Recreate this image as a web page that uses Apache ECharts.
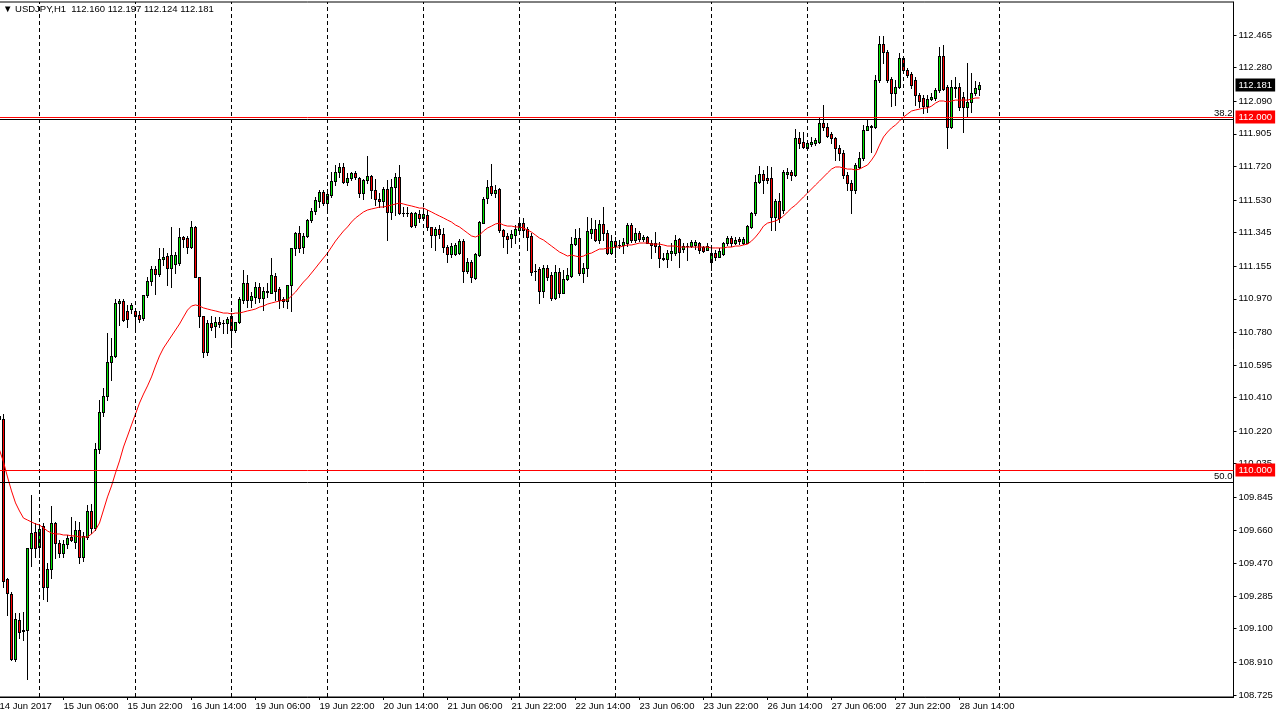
<!DOCTYPE html>
<html><head><meta charset="utf-8">
<script src="https://cdn.jsdelivr.net/npm/echarts@6/dist/echarts.min.js"></script>
<style>html,body{margin:0;padding:0;background:#fff}#c{width:1276px;height:718px}</style>
</head><body><div id="c"></div>
<script>
const symbolName = 'USDJPY,H1';
const lastBarOHLC = [112.160, 112.197, 112.124, 112.181];
const timeLabels = ['14 Jun 2017','15 Jun 06:00','15 Jun 22:00','16 Jun 14:00','19 Jun 06:00','19 Jun 22:00','20 Jun 14:00','21 Jun 06:00','21 Jun 22:00','22 Jun 14:00','23 Jun 06:00','23 Jun 22:00','26 Jun 14:00','27 Jun 06:00','27 Jun 22:00','28 Jun 14:00'];
const labelStep = 16;
const daySeparatorBars = [10,34,58,82,106,130,154,178,202,226,250];
const yTickLabels = ['112.465','112.280','112.090','111.905','111.720','111.530','111.345','111.155','110.970','110.780','110.595','110.410','110.220','110.035','109.845','109.660','109.470','109.285','109.100','108.910','108.725'];
const priceLevels = [112.000, 110.000];
const fibLevels = [111.988, 109.932];
const fibNames = ['38.2', '50.0'];
const lastPrice = 112.181;

const opens = [
110.306,110.289,109.382,109.297,108.928,109.150,109.087,109.093,109.557,109.648,
109.563,109.682,109.337,109.439,109.699,109.586,109.529,109.580,109.620,109.591,
109.659,109.507,109.620,109.767,109.671,110.119,110.328,110.419,110.612,110.646,
110.946,110.957,110.901,110.912,110.901,110.878,110.861,110.991,111.071,111.139,
111.110,111.195,111.212,111.144,111.167,111.173,111.320,111.314,111.263,111.377,
111.093,110.872,110.668,110.833,110.816,110.838,110.833,110.833,110.872,110.793,
110.838,110.963,111.059,110.963,110.980,111.037,110.975,111.008,111.003,111.099,
111.025,110.969,110.957,111.048,111.258,111.343,111.263,111.326,111.416,111.467,
111.524,111.575,111.513,111.558,111.637,111.688,111.717,111.632,111.654,111.683,
111.654,111.569,111.643,111.666,111.586,111.535,111.524,111.592,111.462,111.603,
111.660,111.456,111.456,111.456,111.388,111.450,111.428,111.445,111.377,111.331,
111.365,111.337,111.263,111.224,111.224,111.229,111.297,111.127,111.178,111.088,
111.218,111.399,111.541,111.609,111.569,111.592,111.360,111.326,111.314,111.331,
111.360,111.399,111.365,111.326,111.127,111.139,111.014,111.144,111.105,110.975,
111.122,111.003,111.082,111.099,111.280,111.314,111.116,111.144,111.343,111.365,
111.303,111.394,111.343,111.229,111.297,111.275,111.275,111.286,111.388,111.303,
111.343,111.309,111.320,111.286,111.286,111.269,111.201,111.195,111.229,111.229,
111.309,111.252,111.269,111.269,111.275,111.286,111.263,111.246,111.178,111.229,
111.207,111.224,111.286,111.314,111.286,111.309,111.286,111.286,111.377,111.456,
111.632,111.677,111.654,111.654,111.433,111.524,111.473,111.677,111.688,111.671,
111.881,111.858,111.824,111.847,111.853,111.858,111.966,111.943,111.904,111.881,
111.824,111.796,111.671,111.626,111.586,111.717,111.768,111.926,111.943,111.943,
112.210,112.414,112.368,112.215,112.136,112.170,112.334,112.266,112.244,112.210,
112.125,112.108,112.062,112.102,112.108,112.153,112.346,112.170,111.943,112.164,
112.170,112.113,112.057,112.085,112.136,112.160];

const closes = [
110.289,109.371,109.302,108.928,109.155,109.082,109.093,109.557,109.643,109.557,
109.665,109.337,109.439,109.699,109.586,109.529,109.580,109.614,109.603,109.659,
109.507,109.625,109.767,109.671,110.119,110.328,110.419,110.612,110.646,110.946,
110.957,110.850,110.855,110.935,110.872,110.855,110.991,111.071,111.139,111.110,
111.195,111.207,111.144,111.218,111.218,111.320,111.309,111.263,111.377,111.093,
110.872,110.668,110.833,110.810,110.838,110.827,110.832,110.855,110.793,110.838,
110.969,111.059,110.963,110.986,111.037,110.975,111.014,111.014,111.105,111.014,
110.963,110.957,111.048,111.258,111.343,111.258,111.326,111.416,111.467,111.530,
111.575,111.513,111.564,111.637,111.688,111.717,111.632,111.654,111.683,111.660,
111.569,111.643,111.666,111.586,111.535,111.524,111.592,111.462,111.603,111.660,
111.456,111.455,111.457,111.382,111.456,111.428,111.450,111.377,111.331,111.365,
111.337,111.263,111.224,111.269,111.275,111.297,111.127,111.178,111.093,111.224,
111.405,111.535,111.603,111.569,111.586,111.360,111.326,111.309,111.337,111.365,
111.399,111.360,111.320,111.122,111.126,111.014,111.144,111.093,110.975,111.122,
111.003,111.082,111.105,111.280,111.314,111.116,111.144,111.354,111.365,111.303,
111.394,111.343,111.229,111.297,111.269,111.274,111.292,111.388,111.303,111.343,
111.309,111.320,111.286,111.275,111.269,111.201,111.195,111.229,111.241,111.303,
111.235,111.269,111.268,111.292,111.292,111.246,111.241,111.269,111.229,111.207,
111.241,111.286,111.314,111.286,111.303,111.297,111.309,111.382,111.456,111.632,
111.677,111.643,111.643,111.433,111.524,111.428,111.688,111.688,111.671,111.881,
111.853,111.830,111.853,111.858,111.870,111.966,111.943,111.892,111.881,111.824,
111.796,111.671,111.626,111.586,111.728,111.768,111.926,111.949,111.949,112.210,
112.414,112.368,112.210,112.136,112.170,112.334,112.266,112.238,112.181,112.125,
112.091,112.062,112.102,112.113,112.153,112.346,112.159,111.943,112.170,112.170,
112.057,112.057,112.085,112.136,112.164,112.181];

const lows = [
110.272,109.337,109.178,108.923,108.917,109.047,109.036,108.815,109.456,109.507,
109.507,109.269,109.257,109.387,109.501,109.507,109.507,109.557,109.597,109.557,
109.473,109.484,109.608,109.643,109.659,110.096,110.306,110.396,110.510,110.640,
110.821,110.844,110.810,110.889,110.804,110.838,110.850,110.980,111.048,110.997,
111.099,111.161,111.048,111.037,111.116,111.161,111.263,111.229,111.258,111.093,
110.810,110.640,110.651,110.793,110.753,110.810,110.776,110.776,110.697,110.782,
110.833,110.946,110.923,110.923,110.946,110.952,110.906,110.980,111.003,110.963,
110.918,110.923,110.918,110.901,111.218,111.235,111.229,111.320,111.405,111.450,
111.490,111.501,111.473,111.547,111.615,111.660,111.626,111.615,111.643,111.649,
111.547,111.535,111.626,111.541,111.501,111.490,111.490,111.303,111.422,111.445,
111.450,111.439,111.439,111.377,111.377,111.405,111.416,111.360,111.263,111.246,
111.314,111.235,111.178,111.207,111.218,111.224,111.065,111.116,111.065,111.082,
111.212,111.399,111.513,111.558,111.547,111.348,111.263,111.229,111.263,111.286,
111.343,111.320,111.246,111.105,111.076,110.946,110.980,111.076,110.963,110.969,
110.980,111.003,111.076,111.093,111.275,111.105,111.065,111.099,111.314,111.297,
111.286,111.303,111.224,111.224,111.207,111.258,111.229,111.269,111.292,111.292,
111.297,111.297,111.286,111.201,111.235,111.150,111.190,111.150,111.190,111.218,
111.150,111.235,111.190,111.263,111.252,111.229,111.235,111.246,111.133,111.190,
111.207,111.218,111.275,111.269,111.280,111.280,111.280,111.286,111.371,111.445,
111.626,111.569,111.626,111.360,111.360,111.405,111.456,111.654,111.643,111.666,
111.824,111.824,111.813,111.836,111.841,111.853,111.926,111.887,111.853,111.756,
111.756,111.654,111.586,111.456,111.569,111.711,111.756,111.926,111.802,111.938,
112.198,112.306,112.198,112.062,112.068,112.164,112.255,112.227,112.164,112.068,
112.057,112.023,112.028,112.096,112.096,112.142,112.153,111.824,111.938,112.113,
112.040,111.915,112.000,112.028,112.125,112.124];

const highs = [
110.323,110.317,109.388,109.308,109.189,109.189,109.195,109.557,109.858,109.699,
109.694,109.699,109.473,109.795,109.705,109.603,109.603,109.631,109.733,109.711,
109.705,109.648,109.801,109.807,110.153,110.396,110.464,110.776,110.748,110.969,
110.969,110.969,110.935,110.946,110.918,110.901,110.991,111.093,111.156,111.156,
111.258,111.258,111.229,111.377,111.235,111.371,111.326,111.326,111.411,111.382,
111.093,110.872,110.850,110.872,110.867,110.867,110.850,110.867,110.889,110.838,
110.980,111.133,111.105,111.008,111.065,111.059,111.037,111.059,111.201,111.116,
111.037,110.980,111.048,111.258,111.348,111.382,111.343,111.422,111.484,111.547,
111.586,111.586,111.586,111.688,111.728,111.739,111.739,111.683,111.688,111.694,
111.660,111.649,111.779,111.671,111.649,111.569,111.603,111.643,111.649,111.683,
111.728,111.490,111.490,111.462,111.462,111.473,111.484,111.473,111.377,111.377,
111.388,111.371,111.275,111.286,111.286,111.309,111.309,111.201,111.190,111.229,
111.411,111.547,111.643,111.734,111.615,111.598,111.365,111.343,111.360,111.388,
111.428,111.428,111.377,111.343,111.167,111.150,111.161,111.161,111.122,111.161,
111.144,111.133,111.144,111.320,111.365,111.371,111.173,111.433,111.428,111.416,
111.416,111.490,111.360,111.331,111.320,111.303,111.314,111.399,111.399,111.371,
111.354,111.331,111.326,111.303,111.348,111.292,111.229,111.246,111.286,111.331,
111.314,111.286,111.286,111.303,111.303,111.292,111.269,111.286,111.258,111.246,
111.258,111.292,111.326,111.326,111.320,111.320,111.320,111.388,111.462,111.671,
111.722,111.700,111.722,111.717,111.535,111.569,111.700,111.711,111.700,111.932,
111.915,111.915,111.870,111.887,111.881,111.994,112.068,111.966,111.915,111.887,
111.841,111.813,111.688,111.643,111.739,111.802,111.955,111.989,111.955,112.238,
112.459,112.459,112.380,112.227,112.210,112.363,112.340,112.278,112.255,112.227,
112.136,112.125,112.125,112.136,112.164,112.397,112.408,112.181,112.210,112.227,
112.193,112.142,112.306,112.249,112.204,112.197];

const maValues = [
110.113,110.045,109.960,109.881,109.813,109.767,109.727,109.716,109.705,109.694,
109.688,109.671,109.654,109.642,109.637,109.637,109.631,109.631,109.626,109.626,
109.620,109.620,109.620,109.637,109.659,109.699,109.773,109.847,109.909,109.983,
110.051,110.130,110.192,110.255,110.317,110.379,110.430,110.476,110.527,110.589,
110.646,110.691,110.725,110.759,110.793,110.827,110.867,110.906,110.929,110.935,
110.929,110.918,110.912,110.906,110.901,110.895,110.889,110.889,110.884,110.889,
110.889,110.895,110.901,110.906,110.912,110.923,110.929,110.940,110.946,110.952,
110.957,110.963,110.963,110.986,111.008,111.037,111.065,111.088,111.116,111.144,
111.173,111.201,111.229,111.263,111.297,111.326,111.354,111.377,111.405,111.428,
111.445,111.462,111.473,111.479,111.484,111.490,111.490,111.496,111.501,111.507,
111.513,111.507,111.501,111.496,111.490,111.484,111.484,111.473,111.462,111.450,
111.439,111.428,111.416,111.405,111.388,111.377,111.360,111.343,111.326,111.320,
111.331,111.354,111.371,111.382,111.394,111.399,111.388,111.382,111.382,111.377,
111.377,111.371,111.360,111.348,111.331,111.314,111.303,111.286,111.269,111.252,
111.235,111.224,111.212,111.218,111.212,111.207,111.212,111.224,111.229,111.241,
111.252,111.252,111.258,111.258,111.263,111.263,111.269,111.275,111.275,111.280,
111.286,111.286,111.286,111.280,111.280,111.280,111.275,111.269,111.269,111.269,
111.263,111.263,111.263,111.263,111.263,111.263,111.263,111.263,111.258,111.258,
111.258,111.258,111.263,111.263,111.269,111.269,111.275,111.280,111.297,111.320,
111.348,111.382,111.399,111.405,111.411,111.422,111.439,111.462,111.484,111.501,
111.524,111.547,111.569,111.592,111.615,111.637,111.660,111.683,111.705,111.717,
111.717,111.711,111.705,111.705,111.700,111.705,111.717,111.728,111.756,111.790,
111.841,111.887,111.915,111.938,111.955,111.977,112.000,112.017,112.034,112.040,
112.045,112.051,112.051,112.062,112.079,112.091,112.091,112.085,112.091,112.096,
112.096,112.096,112.096,112.102,112.108,112.108];

const FONT = '"Liberation Sans", Arial, sans-serif';
const FS = 9.5;
const BULL = '#00e600';
const BEAR = '#ff0000';

const slotCount = 309;
const categories = Array.from({length: slotCount}, (_, i) => String(i));
const candleData = opens.map((o, i) => [i, o, closes[i], lows[i], highs[i]]);
const yTickValues = yTickLabels.map(Number);
const labelInterval = (idx) => idx % labelStep === 0 && idx / labelStep < timeLabels.length;

function renderCandle(params, api) {
  const idx = api.value(0), o = api.value(1), c = api.value(2), l = api.value(3), h = api.value(4);
  const pO = api.coord([idx, o]), pC = api.coord([idx, c]);
  const pL = api.coord([idx, l]), pH = api.coord([idx, h]);
  const x = Math.floor(pO[0]);
  const yTop = Math.round(Math.min(pO[1], pC[1]));
  const yBot = Math.round(Math.max(pO[1], pC[1]));
  const yH = Math.round(pH[1]), yL = Math.round(pL[1]);
  const children = [
    {type: 'rect', shape: {x: x, y: yH, width: 1, height: Math.max(1, yL - yH + 1)},
     style: {fill: '#000', stroke: null}},
    {type: 'rect', shape: {x: x - 1, y: yTop, width: 3, height: Math.max(1, yBot - yTop + 1)},
     style: {fill: '#000', stroke: null}}
  ];
  if (yBot - yTop >= 2) {
    children.push({type: 'rect', shape: {x: x, y: yTop + 1, width: 1, height: yBot - yTop - 1},
                   style: {fill: c >= o ? BULL : BEAR, stroke: null}});
  }
  return {type: 'group', children: children};
}

const markData = [];
daySeparatorBars.forEach(b => markData.push({
  xAxis: b, lineStyle: {color: '#000', type: [4, 3], width: 1}, label: {show: false}
}));
fibLevels.forEach((v, k) => markData.push({
  yAxis: v, lineStyle: {color: '#000', type: 'solid', width: 1},
  label: {show: true, position: 'insideEndTop', formatter: fibNames[k], color: '#000',
          distance: 1, fontFamily: FONT, fontSize: FS}
}));
priceLevels.forEach(v => markData.push({
  yAxis: v, lineStyle: {color: '#ff0000', type: 'solid', width: 1},
  label: {show: true, position: 'end', formatter: v.toFixed(3), color: '#fff',
          backgroundColor: '#ff0000', padding: [2, 3, 1, 3], distance: 2,
          fontFamily: FONT, fontSize: FS}
}));
markData.push({
  yAxis: lastPrice, lineStyle: {color: 'rgba(0,0,0,0)', width: 1},
  label: {show: true, position: 'end', formatter: lastPrice.toFixed(3), color: '#fff',
          backgroundColor: '#000', padding: [2, 3, 1, 3], distance: 2,
          fontFamily: FONT, fontSize: FS}
});

const chart = echarts.init(document.getElementById('c'), null, {renderer: 'canvas'});
chart.setOption({
  animation: false,
  backgroundColor: '#fff',
  grid: {left: -2.5, right: 42.5, top: 2, bottom: 21, show: true, borderColor: '#000', borderWidth: 1,
         backgroundColor: '#fff', containLabel: false, outerBoundsMode: 'none'},
  graphic: [{
    type: 'text', left: 3, top: 4, z: 100,
    style: {text: '\u25BC ' + symbolName + '  ' + lastBarOHLC.map(v => v.toFixed(3)).join(' '),
            fill: '#000', fontFamily: FONT, fontSize: FS}
  }],
  xAxis: {
    type: 'category', data: categories, boundaryGap: true,
    axisLine: {show: true, lineStyle: {color: '#000', width: 1}},
    axisTick: {show: true, alignWithLabel: true, interval: labelInterval, length: 3, lineStyle: {color: '#000'}},
    axisLabel: {interval: labelInterval, formatter: (v) => timeLabels[Number(v) / labelStep] || '',
                align: 'left', margin: 4, color: '#000', fontFamily: FONT, fontSize: FS},
    splitLine: {show: false}
  },
  yAxis: {
    type: 'value', position: 'right', min: 108.713, max: 112.652, scale: true,
    axisLine: {show: true, lineStyle: {color: '#000', width: 1}},
    axisTick: {show: true, length: 3, customValues: yTickValues, lineStyle: {color: '#000'}},
    axisLabel: {customValues: yTickValues, formatter: (v) => v.toFixed(3), margin: 5,
                color: '#000', fontFamily: FONT, fontSize: FS},
    splitLine: {show: false}
  },
  series: [
    {
      type: 'custom', data: candleData, renderItem: renderCandle,
      encode: {x: 0, y: [1, 2, 3, 4]}, clip: true,
      markLine: {symbol: 'none', silent: true, animation: false, precision: 3, data: markData},
      z: 2
    },
    {
      type: 'line', data: maValues, symbol: 'none', showSymbol: false, smooth: false,
      lineStyle: {color: '#ff0000', width: 1}, itemStyle: {color: '#ff0000'}, z: 3, silent: true
    }
  ]
});
</script>
</body></html>
